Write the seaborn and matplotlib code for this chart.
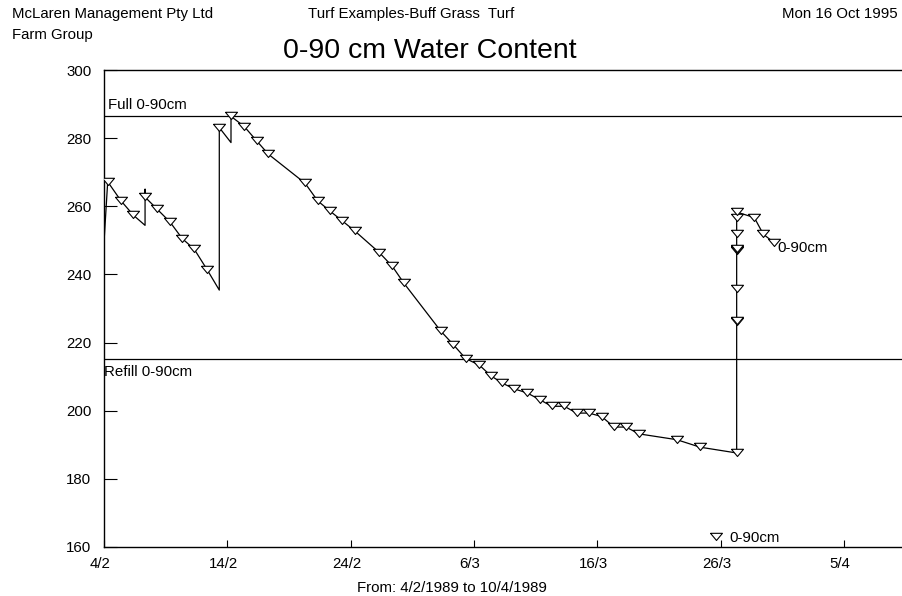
import seaborn as sns
import matplotlib.pyplot as plt
import matplotlib.transforms as mtransforms
import pandas as pd
from matplotlib.lines import Line2D
from matplotlib.markers import MarkerStyle
from matplotlib.path import Path

# Modelled soil water, 0-90 cm (days after 4/2/1989, mm)
line_days = [0.0, 0.3, 1.38, 2.38, 3.33, 3.33, 3.33, 4.27, 5.35, 6.35, 7.32, 8.38,
             9.35, 9.35, 10.3, 10.3, 11.38, 12.38, 13.33, 16.3, 17.33, 18.33, 19.33,
             20.36, 22.33, 23.38, 24.33, 27.33, 28.33, 29.33, 30.44, 31.36, 32.3,
             33.28, 34.33, 35.36, 36.31, 37.33, 38.34, 39.33, 40.36, 41.36, 42.34,
             43.39, 46.45, 48.34, 51.31, 51.31, 52.74, 53.47, 54.36]
line_values = [249.4, 267.2, 261.6, 257.4, 254.4, 265.0, 262.7, 259.3, 255.4, 250.5,
               247.4, 241.3, 235.4, 283.1, 278.7, 286.4, 283.4, 279.2, 275.3, 266.8,
               261.6, 258.6, 255.7, 252.7, 246.4, 242.4, 237.4, 223.3, 219.4, 215.3,
               213.4, 210.3, 208.1, 206.4, 205.2, 203.2, 201.3, 201.3, 199.3, 199.3,
               198.3, 195.2, 195.2, 193.2, 191.5, 189.3, 187.6, 258.3, 256.7, 251.8,
               249.3]

# Readings (triangles)
obs_days = [0.3, 1.38, 2.38, 3.33, 4.27, 5.35, 6.35, 7.32, 8.38, 9.35, 10.3, 11.38,
            12.38, 13.33, 16.3, 17.33, 18.33, 19.33, 20.36, 22.33, 23.38, 24.33,
            27.33, 28.33, 29.33, 30.44, 31.36, 32.3, 33.28, 34.33, 35.36, 36.31,
            37.33, 38.34, 39.33, 40.36, 41.36, 42.34, 43.39, 46.45, 48.34,
            51.31, 51.31, 51.31, 51.31, 51.31, 51.31, 51.31, 51.31, 51.31, 51.31,
            52.74, 53.47, 54.36]
obs_values = [267.2, 261.6, 257.4, 262.7, 259.3, 255.4, 250.5, 247.4, 241.3, 283.1,
              286.4, 283.4, 279.2, 275.3, 266.8, 261.6, 258.6, 255.7, 252.7, 246.4,
              242.4, 237.4, 223.3, 219.4, 215.3, 213.4, 210.3, 208.1, 206.4, 205.2,
              203.2, 201.3, 201.3, 199.3, 199.3, 198.3, 195.2, 195.2, 193.2, 191.5,
              189.3, 187.6, 226.0, 226.4, 235.6, 246.8, 247.2, 247.6, 251.8, 256.7,
              258.3, 256.7, 251.8, 249.3]

full_point = 286.5
refill_point = 215.3
tick_labels = ["4/2", "14/2", "24/2", "6/3", "16/3", "26/3", "5/4"]
y_ticks = [160, 180, 200, 220, 240, 260, 280, 300]

start = pd.Timestamp("1989-02-04")
line_df = pd.DataFrame({"date": start + pd.to_timedelta(line_days, unit="D"),
                        "value": line_values})
obs_df = pd.DataFrame({"date": start + pd.to_timedelta(obs_days, unit="D"),
                       "value": obs_values})
tick_dates = [pd.Timestamp(f"1989-{t.split('/')[1]}-{t.split('/')[0]}") for t in tick_labels]

sns.set_theme(style="white")
plt.rcParams["font.family"] = ["Liberation Sans", "DejaVu Sans"]
plt.rcParams["text.color"] = "black"
fs = 10.8

fig = plt.figure(figsize=(9.03, 5.96), dpi=100)
ax = fig.add_axes([104 / 903, 49 / 596, 799 / 903, 477 / 596])

tri = MarkerStyle(Path([(-1, 0.7), (1, 0.7), (0, -0.5), (-1, 0.7)]))

sns.lineplot(data=line_df, x="date", y="value", sort=False, estimator=None,
             color="black", linewidth=0.9, ax=ax)
sns.scatterplot(data=obs_df, x="date", y="value", marker=tri, s=75, color="white",
                edgecolor="black", linewidth=0.8, zorder=3, ax=ax)

ax.axhline(full_point, color="black", linewidth=0.9)
ax.axhline(refill_point, color="black", linewidth=0.9)
ax.text(0.005, full_point + 1.3, "Full 0-90cm", transform=ax.get_yaxis_transform(),
        ha="left", va="bottom", fontsize=fs)
ax.text(0.0, refill_point - 2.0, "Refill 0-90cm", transform=ax.get_yaxis_transform(),
        ha="left", va="top", fontsize=fs)

ax.annotate("0-90cm", xy=(obs_df["date"].iloc[-1], obs_df["value"].iloc[-1]),
            xytext=(2, -4), textcoords="offset points", ha="left", va="center",
            fontsize=fs)

ax.set_xlim(start, start + pd.Timedelta(days=64.8))
ax.set_ylim(160, 300)
ax.set_xticks(tick_dates)
ax.set_xticklabels(tick_labels)
ax.set_yticks(y_ticks)
ax.tick_params(axis="y", direction="in", length=9, width=0.8, pad=9, labelsize=fs,
               left=True, colors="black")
ax.tick_params(axis="x", direction="in", length=5, width=0.8, pad=7, labelsize=fs,
               bottom=True, colors="black")
shift = mtransforms.ScaledTranslation(-4 / 100, 0, fig.dpi_scale_trans)
for lab in ax.get_xticklabels():
    lab.set_transform(lab.get_transform() + shift)
ax.set_xlabel("")
ax.set_ylabel("")
for side in ["left", "bottom", "top"]:
    ax.spines[side].set_color("black")
    ax.spines[side].set_linewidth(1.0)
ax.spines["right"].set_visible(False)

handle = Line2D([], [], marker=tri, linestyle="none", markersize=8.6,
                markerfacecolor="white", markeredgecolor="black", markeredgewidth=0.8)
ax.legend([handle], ["0-90cm"], loc="lower left", bbox_to_anchor=(0.755, 0.0),
          frameon=False, fontsize=fs, handlelength=1.0, handletextpad=0.35,
          borderpad=0.1, borderaxespad=0)

fig.text(12 / 903, 1 - 14 / 596, "McLaren Management Pty Ltd", ha="left", va="center", fontsize=fs)
fig.text(12 / 903, 1 - 35 / 596, "Farm Group", ha="left", va="center", fontsize=fs)
fig.text(308 / 903, 1 - 14 / 596, "Turf Examples-Buff Grass  Turf", ha="left", va="center", fontsize=fs)
fig.text(898 / 903, 1 - 14 / 596, "Mon 16 Oct 1995", ha="right", va="center", fontsize=fs)
fig.text(430 / 903, 1 - 51 / 596, "0-90 cm Water Content", ha="center", va="center", fontsize=20.5)
fig.text(452 / 903, 1 - 588 / 596, "From: 4/2/1989 to 10/4/1989", ha="center", va="center", fontsize=fs)

fig.savefig("out.png", dpi=100)
